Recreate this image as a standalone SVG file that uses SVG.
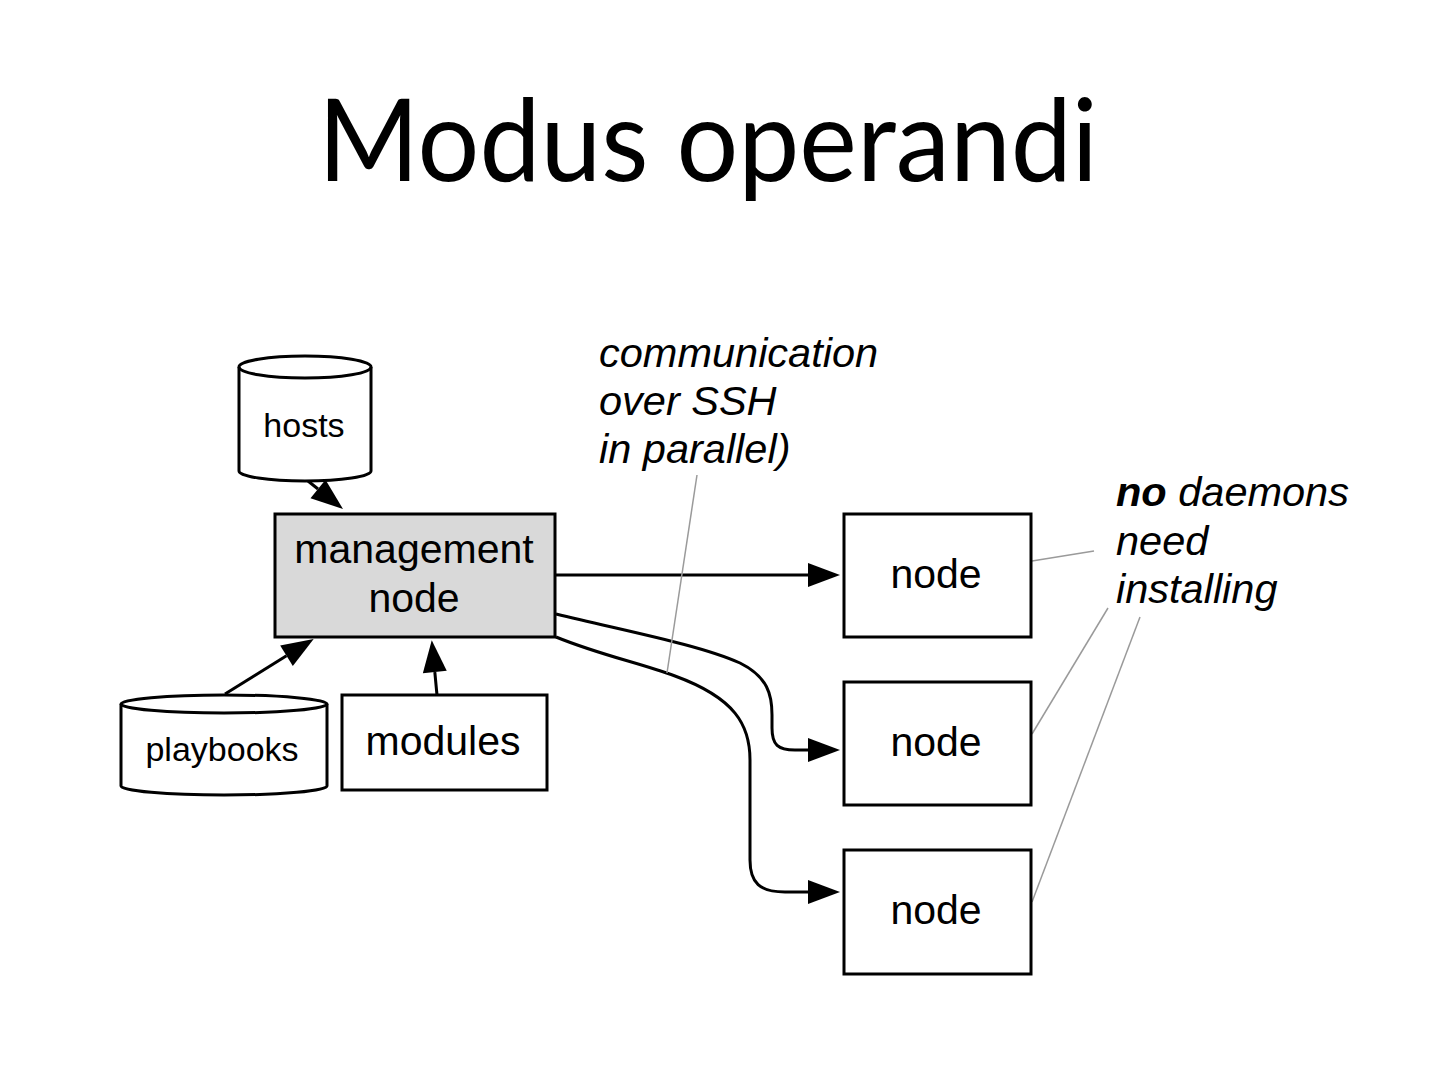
<svg xmlns="http://www.w3.org/2000/svg" width="1448" height="1079" viewBox="0 0 1448 1079">
<style>
.box{fill:#fff;stroke:#000;stroke-width:3}
.mgmt{fill:#d9d9d9;stroke:#000;stroke-width:3}
.lbl{font-family:"Liberation Sans",Arial,sans-serif;fill:#000;text-anchor:middle}
.note{font-family:"Liberation Sans",Arial,sans-serif;font-style:italic;font-size:41.5px;fill:#000}
.edge{fill:none;stroke:#000;stroke-width:3}
.call{fill:none;stroke:#9a9a9a;stroke-width:1.5}
</style>
<defs>
<marker id="ah" markerUnits="userSpaceOnUse" markerWidth="34" markerHeight="28" viewBox="0 -14 34 28" refX="0" refY="0" orient="auto" overflow="visible">
<path d="M0,-12 L32,0 L0,12 Z" fill="#000"/>
</marker>
</defs>
<rect width="1448" height="1079" fill="#fff"/>
<text x="708" y="181" font-family="Lato,'Open Sans',sans-serif" font-size="115" text-anchor="middle" textLength="780" lengthAdjust="spacingAndGlyphs">Modus operandi</text>

<g id="edges">
<path class="edge" d="M308,481 L318,489" marker-end="url(#ah)"/>
<path class="edge" d="M225,694 L286.5,655.8" marker-end="url(#ah)"/>
<path class="edge" d="M437,695 L434.8,672" marker-end="url(#ah)"/>
<path class="edge" d="M556,575 L808,575" marker-end="url(#ah)"/>
<path class="edge" d="M556,614 C630,632 700,645 740,663 C768,677 772,695 772,715 L772,728 C772,745 778,750 795,750 L808,750" marker-end="url(#ah)"/>
<path class="edge" d="M556,637 C600,655 640,663 675,676 C735,698 750,725 750,760 L750,860 C750,883 760,892 785,892 L808,892" marker-end="url(#ah)"/>
<line class="call" x1="697" y1="475" x2="667" y2="673"/>
<line class="call" x1="1094" y1="551" x2="1032" y2="561"/>
<line class="call" x1="1108" y1="608" x2="1032" y2="734"/>
<line class="call" x1="1140" y1="617" x2="1032" y2="902"/>
</g>

<g id="hosts">
<path class="box" d="M239,367 L239,471 A66,10 0 0 0 371,471 L371,367 A66,11 0 0 0 239,367 Z"/>
<path class="edge" d="M239,367 A66,11 0 0 0 371,367"/>
<text class="lbl" x="304" y="437" font-size="34">hosts</text>
</g>

<g id="management">
<rect class="mgmt" x="275" y="514" width="280" height="123"/>
<text class="lbl" x="414" y="563" font-size="41">management</text>
<text class="lbl" x="414" y="612" font-size="41">node</text>
</g>

<g id="playbooks">
<path class="box" d="M121,704 L121,786 A103,9 0 0 0 327,786 L327,704 A103,9 0 0 0 121,704 Z"/>
<path class="edge" d="M121,704 A103,9 0 0 0 327,704"/>
<text class="lbl" x="222" y="761" font-size="34">playbooks</text>
</g>

<g id="modules">
<rect class="box" x="342" y="695" width="205" height="95"/>
<text class="lbl" x="443" y="755" font-size="41">modules</text>
</g>

<g id="node1">
<rect class="box" x="844" y="514" width="187" height="123"/>
<text class="lbl" x="936" y="588" font-size="41">node</text>
</g>
<g id="node2">
<rect class="box" x="844" y="682" width="187" height="123"/>
<text class="lbl" x="936" y="756" font-size="41">node</text>
</g>
<g id="node3">
<rect class="box" x="844" y="850" width="187" height="124"/>
<text class="lbl" x="936" y="924" font-size="41">node</text>
</g>

<g id="note-ssh">
<text class="note" x="599" y="367">communication</text>
<text class="note" x="599" y="415">over SSH</text>
<text class="note" x="599" y="463">in parallel)</text>
</g>

<g id="note-daemons">
<text class="note" x="1116" y="506"><tspan font-weight="bold">no</tspan> daemons</text>
<text class="note" x="1116" y="555">need</text>
<text class="note" x="1116" y="603">installing</text>
</g>
</svg>
